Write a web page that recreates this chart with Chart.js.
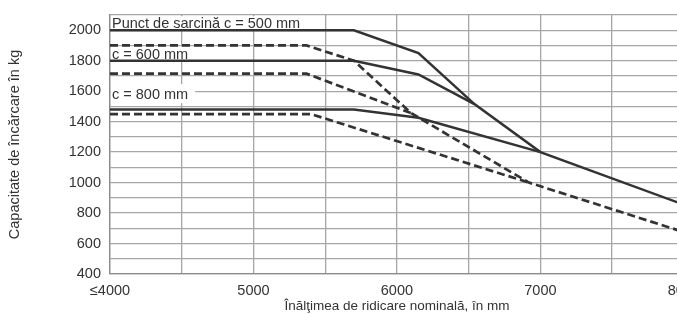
<!DOCTYPE html>
<html>
<head>
<meta charset="utf-8">
<script src="https://cdn.jsdelivr.net/npm/chart.js@4/dist/chart.umd.min.js"></script>
<style>
  html, body { margin: 0; padding: 0; background: #fff; overflow: hidden; }
  #wrap { width: 708px; height: 314px; }
</style>
</head>
<body>
<div id="wrap"><canvas id="capChart"></canvas></div>
<script>
// lift height in mm / capacity in kg
const c500X = [4000, 5700, 6150, 6540, 7000, 8000];
const c500Y = [2000, 2000, 1850, 1515, 1200, 855];
const c600X = [4000, 5700, 6150, 6540];
const c600Y = [1800, 1800, 1710, 1515];
const c800X = [4000, 5700, 6150, 7000];
const c800Y = [1480, 1480, 1425, 1200];

// dashed curves; they join the upper one where they meet
const d500X = [4000, 5370, 5700, 6100, 6920, 8000];
const d500Y = [1900, 1900, 1800, 1455, 1000, 675];
const d600X = [4000, 5370, 6100];
const d600Y = [1715, 1715, 1455];
const d800X = [4000, 5400, 6920];
const d800Y = [1450, 1450, 1000];

const xTicks = [4000, 5000, 6000, 7000, 8000];
const yTicks = [400, 600, 800, 1000, 1200, 1400, 1600, 1800, 2000];

// text labels inside the plot and the grid value they sit on
const noteTexts = ["Punct de sarcină c = 500 mm", "c = 600 mm", "c = 800 mm"];
const noteY = [2000, 1800, 1600];

const ink = "#333333";
const gridCol = "#a6a6a6";
const fontFam = "'Liberation Sans', Arial, sans-serif";

function pts(xs, ys) {
    return xs.map((x, i) => ({ x: x, y: ys[i] }));
}

function line(xs, ys, dashed) {
    return {
        data: pts(xs, ys),
        borderColor: ink,
        borderWidth: dashed ? 2.7 : 2.5,
        borderDash: dashed ? [8, 4] : [],
        pointRadius: 0,
        fill: false,
        tension: 0
    };
}

const notesPlugin = {
    id: "notes",
    beforeDatasetsDraw(chart) {
        const ctx = chart.ctx;
        const xs = chart.scales.x, ys = chart.scales.y;
        ctx.save();
        ctx.font = "14.5px " + fontFam;
        ctx.textBaseline = "alphabetic";
        noteTexts.forEach((t, i) => {
            const x = xs.getPixelForValue(4000);
            const y = ys.getPixelForValue(noteY[i]);
            const w = ctx.measureText(t).width;
            ctx.fillStyle = "#fff";
            if (i === 2) {
                ctx.fillRect(x + 1, y - 7, w + 8, 19);
                ctx.fillStyle = ink;
                ctx.fillText(t, x + 2, y + 8);
            } else {
                ctx.fillRect(x + 1, y - 14, w + 6, 13);
                ctx.fillStyle = ink;
                ctx.fillText(t, x + 2, y - 2);
            }
        });
        ctx.restore();
    }
};

new Chart(document.getElementById("capChart"), {
    type: "line",
    data: {
        datasets: [
            line(c500X, c500Y, false),
            line(c600X, c600Y, false),
            line(c800X, c800Y, false),
            line(d500X, d500Y, true),
            line(d600X, d600Y, true),
            line(d800X, d800Y, true)
        ]
    },
    plugins: [notesPlugin],
    options: {
        responsive: true,
        maintainAspectRatio: false,
        animation: false,
        layout: { padding: { top: 15, right: 0, left: 0, bottom: 0 } },
        plugins: {
            legend: { display: false },
            tooltip: { enabled: false }
        },
        scales: {
            x: {
                type: "linear",
                min: 4000,
                max: 8000,
                afterFit: s => { s.height = 40; },
                grid: { color: gridCol, lineWidth: 1.3, drawTicks: false },
                border: { color: "#8a8a8a", width: 1.3 },
                ticks: {
                    stepSize: 500,
                    autoSkip: false,
                    maxRotation: 0,
                    padding: 8,
                    color: ink,
                    font: { family: fontFam, size: 14.5 },
                    callback: v => xTicks.includes(v) ? (v === 4000 ? "≤4000" : String(v)) : ""
                },
                title: {
                    display: true,
                    text: "Înălţimea de ridicare nominală, în mm",
                    color: ink,
                    font: { family: fontFam, size: 13.5 },
                    padding: { top: 0, bottom: 0 }
                }
            },
            y: {
                min: 400,
                max: 2100,
                afterFit: s => { s.width = 110; s.paddingTop = 0; },
                grid: { color: gridCol, lineWidth: 1.3, drawTicks: false },
                border: { color: "#8a8a8a", width: 1.3 },
                ticks: {
                    stepSize: 100,
                    autoSkip: false,
                    padding: 9,
                    color: ink,
                    font: { family: fontFam, size: 14.5 },
                    callback: v => yTicks.includes(v) ? String(v) : ""
                },
                title: {
                    display: true,
                    text: "Capacitate de încărcare în kg",
                    color: ink,
                    font: { family: fontFam, size: 14.5 },
                    padding: { top: 6, bottom: 0 }
                }
            }
        }
    }
});
</script>
</body>
</html>
